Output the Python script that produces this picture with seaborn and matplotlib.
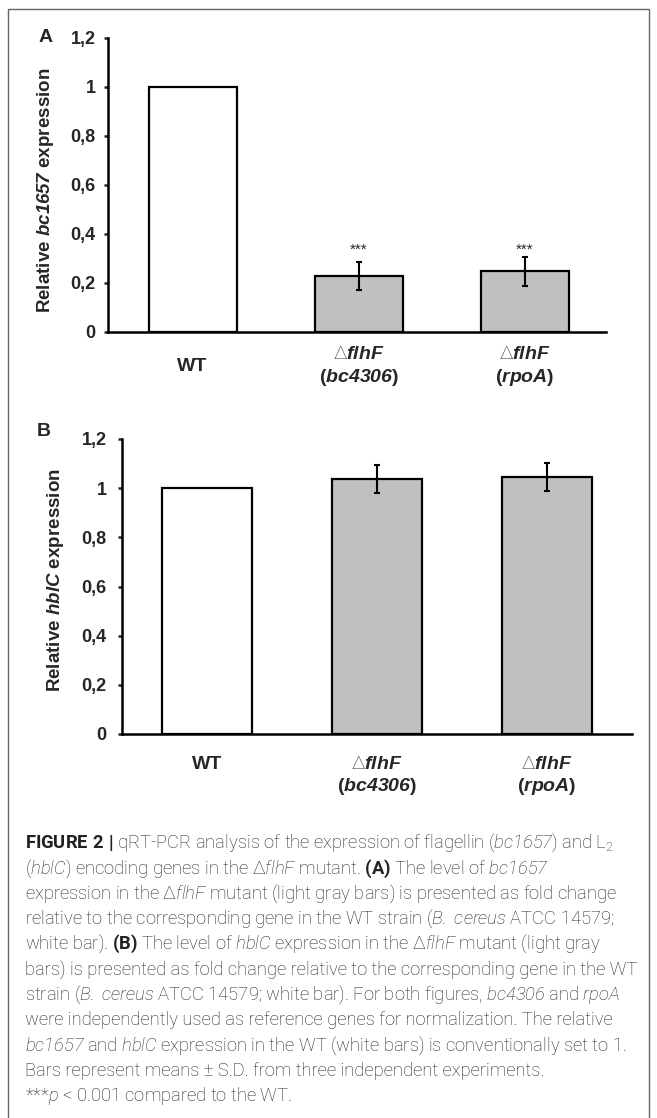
import matplotlib
matplotlib.use('Agg')
import matplotlib.pyplot as plt
from matplotlib.patches import Rectangle
from matplotlib.ticker import FuncFormatter
import seaborn as sns

# data
strains = ['WT', 'flhF (bc4306)', 'flhF (rpoA)']
tick_labels = ['WT',
               '$\\Delta\\mathbfit{flhF}$\n($\\mathbfit{bc4306}$)',
               '$\\Delta\\mathbfit{flhF}$\n($\\mathbfit{rpoA}$)']
bar_colors = ['white', '#c0c0c0', '#c0c0c0']

bc1657_mean = [1.0, 0.229, 0.247]
bc1657_sd = [0, 0.057, 0.060]
bc1657_marks = ['', '***', '***']

hblc_mean = [1.0, 1.036, 1.047]
hblc_sd = [0, 0.057, 0.057]

y_ticks = [0, 0.2, 0.4, 0.6, 0.8, 1.0, 1.2]

caption_lines = [
    '$\\mathbf{FIGURE\\ 2\\ |}$ qRT-PCR analysis of the expression of flagellin ($\\mathsf{bc1657}$) and L$_2$',
    '($\\mathsf{hblC}$) encoding genes in the Δ$\\mathsf{flhF}$ mutant. $\\mathbf{(A)}$ The level of $\\mathsf{bc1657}$',
    'expression in the Δ$\\mathsf{flhF}$ mutant (light gray bars) is presented as fold change',
    'relative to the corresponding gene in the WT strain ($\\mathsf{B.}$ $\\mathsf{cereus}$ ATCC 14579;',
    'white bar). $\\mathbf{(B)}$ The level of $\\mathsf{hblC}$ expression in the Δ$\\mathsf{flhF}$ mutant (light gray',
    'bars) is presented as fold change relative to the corresponding gene in the WT',
    'strain ($\\mathsf{B.}$ $\\mathsf{cereus}$ ATCC 14579; white bar). For both figures, $\\mathsf{bc4306}$ and $\\mathsf{rpoA}$',
    'were independently used as reference genes for normalization. The relative',
    '$\\mathsf{bc1657}$ and $\\mathsf{hblC}$ expression in the WT (white bars) is conventionally set to 1.',
    'Bars represent means ± S.D. from three independent experiments.',
    '***$\\mathsf{p}$ < 0.001 compared to the WT.',
]

cap_font = 'Roboto'

sns.set_style('white')
plt.rcParams['font.family'] = ['Liberation Sans', 'DejaVu Sans']
plt.rcParams['mathtext.fontset'] = 'custom'
plt.rcParams['mathtext.bfit'] = 'Liberation Sans:bold:italic'
plt.rcParams['mathtext.rm'] = cap_font + ':light'
plt.rcParams['mathtext.it'] = cap_font + ':light:italic'
plt.rcParams['mathtext.sf'] = cap_font + ':light:italic'
plt.rcParams['mathtext.bf'] = cap_font + ':bold'

W, H = 657, 1118
fig = plt.figure(figsize=(W / 100, H / 100), dpi=100)


def px_axes(left, right, top, bottom):
    return fig.add_axes([left / W, 1 - bottom / H, (right - left) / W, (bottom - top) / H])


def draw_panel(ax, means, sds, gene, label_x, label_y, marks=None):
    sns.barplot(x=strains, y=means, hue=strains, palette=bar_colors, legend=False,
                width=0.53, edgecolor='black', linewidth=1.6, saturation=1, ax=ax)
    idx = [i for i, s in enumerate(sds) if s > 0]
    ax.errorbar(idx, [means[i] for i in idx], yerr=[sds[i] for i in idx], fmt='none',
                ecolor='black', elinewidth=1.5, capsize=2.5, capthick=1.5)
    if marks:
        for i, m in enumerate(marks):
            if m:
                ax.text(i, 0.318, m, ha='center', va='baseline', fontsize=11)
    ax.set_ylim(0, 1.2)
    ax.set_yticks(y_ticks)
    ax.yaxis.set_major_formatter(FuncFormatter(lambda v, p: f'{v:g}'.replace('.', ',')))
    ax.set_xticks(range(len(strains)), tick_labels)
    for t in ax.get_yticklabels() + ax.get_xticklabels():
        t.set_fontweight('bold')
    for t in ax.get_xticklabels():
        t.set_linespacing(1.25)
    ax.set_xlabel('')
    ax.set_ylabel(f'Relative $\\mathbfit{{{gene}}}$ expression', fontsize=13.5,
                  fontweight='bold', va='center')
    ax.yaxis.set_label_coords(label_x, label_y)
    sns.despine(ax=ax)
    for sp in ['left', 'bottom']:
        ax.spines[sp].set_linewidth(1.8)
        ax.spines[sp].set_color('black')
    ax.tick_params(axis='y', direction='out', length=3, width=1.8, labelsize=13, pad=6,
                   left=True)
    ax.tick_params(axis='x', length=0, labelsize=14)


# Panel A
ax_a = px_axes(108, 606, 38, 332)
draw_panel(ax_a, bc1657_mean, bc1657_sd, 'bc1657', -0.1245, 0.483, bc1657_marks)
ax_a.set_xlim(-0.51, 2.49)
for t in ax_a.get_xticklabels():
    t.set_va('center')
ax_a.tick_params(axis='x', pad=25)

# Panel B
ax_b = px_axes(122, 632, 439, 734)
draw_panel(ax_b, hblc_mean, hblc_sd, 'hblC', -0.131, 0.52)
ax_b.set_xlim(-0.5, 2.5)
ax_b.tick_params(axis='x', pad=15.5)
ax_b.tick_params(axis='y', pad=8)

fig.text(46 / W, 1 - 37 / H, 'A', fontsize=14, fontweight='bold', ha='center', va='center')
fig.text(44 / W, 1 - 432 / H, 'B', fontsize=14, fontweight='bold', ha='center', va='center')

# caption
for i, line in enumerate(caption_lines):
    fig.text(25 / W, 1 - (843 + 25.3 * i) / H, line, fontsize=13.2, family=cap_font,
             fontweight='light', color='#222222', ha='left', va='center')

# outer frame
fig.add_artist(Rectangle((8 / W, -0.01), 641 / W, 1 - 9 / H + 0.01, transform=fig.transFigure,
                         fill=False, edgecolor='#666666', linewidth=1.0))

fig.savefig('out.png', dpi=100)
